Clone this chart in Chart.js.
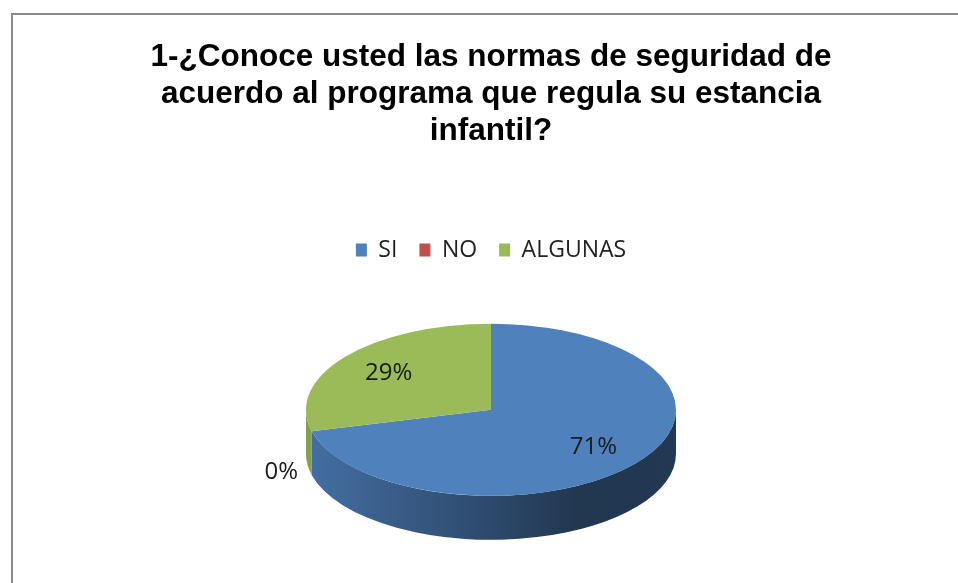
<!DOCTYPE html>
<html>
<head>
<meta charset="utf-8">
<title>Normas de seguridad</title>
<script src="https://cdn.jsdelivr.net/npm/chart.js@4.4.1/dist/chart.umd.min.js"></script>
<style>
  html, body { margin: 0; padding: 0; background: #fff; overflow: hidden; }
  #frame { position: absolute; left: 11px; top: 13px; width: 956px; height: 620px; border: 2px solid #8c8c8c; }
  #chart { display: block; }
</style>
</head>
<body>
<div id="frame"><canvas id="chart" width="956" height="620"></canvas></div>
<script>
// ── Data ────────────────────────────────────────────
const answers    = ['SI', 'NO', 'ALGUNAS'];
const percents   = [71, 0, 29];
const titleLines = [
  '1-¿Conoce usted las normas de seguridad de',
  'acuerdo al programa que regula su estancia',
  'infantil?'
];

const sliceColors = ['#4f81bd', '#c0504d', '#9bbb59'];
const TILT  = 0.465;   // vertical squash of the pie top
const DEPTH = 44;      // thickness of the pie

function shade(hex, f) {
  const n = parseInt(hex.slice(1), 16);
  const r = Math.round(((n >> 16) & 255) * f);
  const g = Math.round(((n >> 8) & 255) * f);
  const b = Math.round((n & 255) * f);
  return `rgb(${r},${g},${b})`;
}

// draws the side wall under the pie, then squashes the top face
const pie3d = {
  id: 'pie3d',
  beforeDatasetsDraw(chart) {
    const ctx = chart.ctx;
    const arcs = chart.getDatasetMeta(0).data;
    const { x: cx, y: cy, outerRadius: r } = arcs[0];
    const ry = r * TILT;

    ctx.save();
    arcs.forEach((arc, i) => {
      const s = arc.startAngle, e = arc.endAngle;
      if (e - s <= 0) return;
      const base = sliceColors[i];
      const grad = ctx.createLinearGradient(cx - r, 0, cx + r, 0);
      grad.addColorStop(0, shade(base, 0.86));
      grad.addColorStop(0.75, shade(base, 0.42));
      grad.addColorStop(1, shade(base, 0.44));
      for (const k of [0, Math.PI * 2]) {
        const lo = Math.max(s, k), hi = Math.min(e, k + Math.PI);
        if (hi <= lo) continue;
        ctx.beginPath();
        ctx.ellipse(cx, cy, r, ry, 0, lo, hi, false);
        ctx.lineTo(cx + Math.cos(hi) * r, cy + DEPTH + Math.sin(hi) * ry);
        ctx.ellipse(cx, cy + DEPTH, r, ry, 0, hi, lo, true);
        ctx.closePath();
        ctx.fillStyle = grad;
        ctx.fill();
      }
    });
    ctx.restore();

    // squash the flat pie drawn by Chart.js into the top face
    ctx.save();
    ctx.translate(0, cy);
    ctx.scale(1, TILT);
    ctx.translate(0, -cy);
  },
  afterDatasetsDraw(chart) {
    const ctx = chart.ctx;
    ctx.restore();

    const arcs = chart.getDatasetMeta(0).data;
    ctx.save();
    ctx.font = '24px "Open Sans"';
    ctx.fillStyle = '#1a1a1a';
    ctx.textAlign = 'center';
    ctx.textBaseline = 'middle';
    arcs.forEach((arc, i) => {
      const mid = (arc.startAngle + arc.endAngle) / 2;
      const inside = percents[i] > 0;
      const rr = arc.outerRadius * (inside ? 0.7 : 1.17);
      let x = arc.x + Math.cos(mid) * rr;
      let y = arc.y + Math.sin(mid) * rr * TILT;
      if (!inside && Math.sin(mid) > 0) y += DEPTH * 0.85;
      ctx.fillText(percents[i] + '%', x, y);
    });
    ctx.restore();
  }
};

new Chart(document.getElementById('chart'), {
  type: 'pie',
  data: {
    labels: answers,
    datasets: [{
      data: percents,
      backgroundColor: sliceColors,
      borderWidth: 0,
      radius: 185,
      clip: false
    }]
  },
  options: {
    responsive: false,
    animation: false,
    events: [],
    layout: { padding: { top: 0, bottom: 87 } },
    plugins: {
      title: {
        display: true,
        text: titleLines,
        color: '#000',
        font: { family: 'Liberation Sans', size: 31.5, weight: 'bold', lineHeight: 1.17 },
        padding: { top: 24, bottom: 67 }
      },
      legend: {
        position: 'top',
        labels: {
          boxWidth: 11,
          boxHeight: 13,
          padding: 22,
          color: '#222',
          font: { family: 'Open Sans', size: 23 }
        }
      },
      tooltip: { enabled: false }
    }
  },
  plugins: [pie3d]
});
</script>
</body>
</html>
